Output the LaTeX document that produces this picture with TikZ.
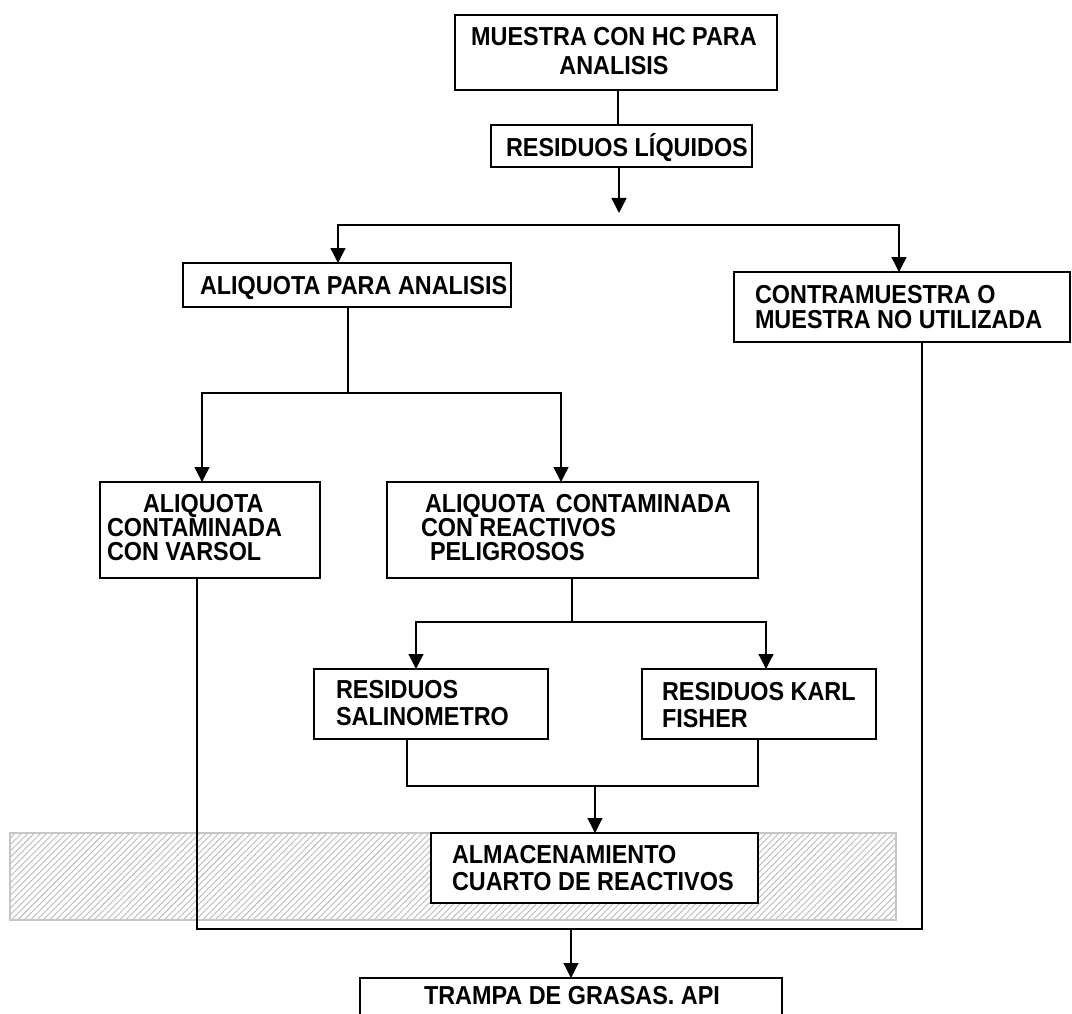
\documentclass[tikz,border=0pt]{standalone}
\usepackage{fontspec}
\setmainfont{Liberation Sans}[FakeStretch=0.9]
\usetikzlibrary{arrows.meta,patterns.meta}
\begin{document}
\begin{tikzpicture}[x=1pt,y=-1pt,
  box/.style={draw,line width=1.6pt,fill=white,inner sep=0pt,outer sep=0pt,anchor=north west},
  txt/.style={inner sep=0pt,outer sep=0pt,font=\fontsize{26}{27}\selectfont\bfseries,align=left},
  link/.style={line width=1.4pt},
  thin/.style={line width=1.2pt},
  tip/.style={-{Triangle[length=15pt,width=15pt]}},
  tips/.style={{Triangle[length=15pt,width=15pt]}-{Triangle[length=15pt,width=15pt]}}]
\useasboundingbox (0,0) rectangle (1072,1014);

% storage band
\path[pattern={Lines[angle=45,distance=4.5pt,line width=0.9pt]},pattern color=gray!55,
      draw=gray!45,line width=1.2pt] (10,833) rectangle (896,920);

% boxes
\node[box,minimum width=322,minimum height=75] (top) at (455,15) {};
\node[box,minimum width=261,minimum height=42] (liq) at (491,125) {};
\node[box,minimum width=328,minimum height=44] (ap) at (183,263) {};
\node[box,minimum width=336,minimum height=70] (contra) at (734,272) {};
\node[box,minimum width=220,minimum height=96] (varsol) at (100,482) {};
\node[box,minimum width=371,minimum height=96] (reac) at (387,482) {};
\node[box,minimum width=234,minimum height=70] (salino) at (314,669) {};
\node[box,minimum width=234,minimum height=70] (karl) at (642,669) {};
\node[box,minimum width=327,minimum height=70] (almac) at (431,833) {};
\node[box,minimum width=422,minimum height=60] (trampa) at (360,978) {};

% texts
\node[txt,align=center,anchor=north,font=\fontsize{26}{29}\selectfont\bfseries] (ttop) at (614,27)
  {\rule{0pt}{19pt}MUESTRA CON HC PARA\\ANALISIS};
\node[txt,anchor=base west] (tliq) at (506,157) {RESIDUOS LÍQUIDOS};
\node[txt,anchor=base west] (tap) at (200,294) {ALIQUOTA PARA ANALISIS};
\node[txt,anchor=north west,font=\fontsize{26}{25}\selectfont\bfseries] (tcontra) at (755,284)
  {\rule{0pt}{19pt}CONTRAMUESTRA O\\MUESTRA NO UTILIZADA};
\node[txt,anchor=north west,font=\fontsize{26}{24}\selectfont\bfseries] (tvarsol) at (107,493)
  {\rule{0pt}{19pt}\hspace*{36pt}ALIQUOTA\\CONTAMINADA\\CON VARSOL};
\node[txt,anchor=north west,font=\fontsize{26}{24}\selectfont\bfseries] (treac) at (421,493)
  {\rule{0pt}{19pt}\hspace*{4pt}ALIQUOTA\hspace{4pt} CONTAMINADA\\CON REACTIVOS\\\hspace*{9pt}PELIGROSOS};
\node[txt,anchor=north west] (tsalino) at (336,679) {\rule{0pt}{19pt}RESIDUOS\\SALINOMETRO};
\node[txt,anchor=north west] (tkarl) at (662,681) {\rule{0pt}{19pt}RESIDUOS KARL\\FISHER};
\node[txt,anchor=north west] (talmac) at (452,844) {\rule{0pt}{19pt}ALMACENAMIENTO\\CUARTO DE REACTIVOS};
\node[txt,anchor=base west] (ttrampa) at (424,1004) {TRAMPA DE GRASAS. API};

% junction points
\coordinate (xa) at (618,0);
\coordinate (xb) at (619,0);
\coordinate (tipA) at (619,213);
\coordinate (brL) at (338,225);
\coordinate (brR) at (899,225);
\coordinate (sp) at (348,393);
\coordinate (sL) at (202,393);
\coordinate (sR) at (561,393);
\coordinate (rj) at (572,622);
\coordinate (rL) at (416,622);
\coordinate (rR) at (766,622);
\coordinate (mL) at (407,786);
\coordinate (mR) at (758,786);
\coordinate (mC) at (595,786);
\coordinate (bL) at (197,929);
\coordinate (bR) at (922,929);
\coordinate (bC) at (571,929);

% connectors
\draw[link] (top.south -| xa) -- (liq.north -| xa);
\draw[link,tip] (liq.south -| xb) -- (tipA);
\draw[link,tips] (ap.north -| brL) -- (brL) -- (brR) -- (contra.north -| brR);
\draw[link] (ap.south -| sp) -- (sp);
\draw[link,tips] (varsol.north -| sL) -- (sL) -- (sR) -- (reac.north -| sR);
\draw[thin] (reac.south -| rj) -- (rj);
\draw[thin,tips] (salino.north -| rL) -- (rL) -- (rR) -- (karl.north -| rR);
\draw[thin] (salino.south -| mL) -- (mL) -- (mR) -- (karl.south -| mR);
\draw[thin,tip] (mC) -- (almac.north -| mC);
\draw[thin] (varsol.south -| bL) -- (bL) -- (bR) -- (contra.south -| bR);
\draw[thin,tip] (bC) -- (trampa.north -| bC);
\end{tikzpicture}
\end{document}
